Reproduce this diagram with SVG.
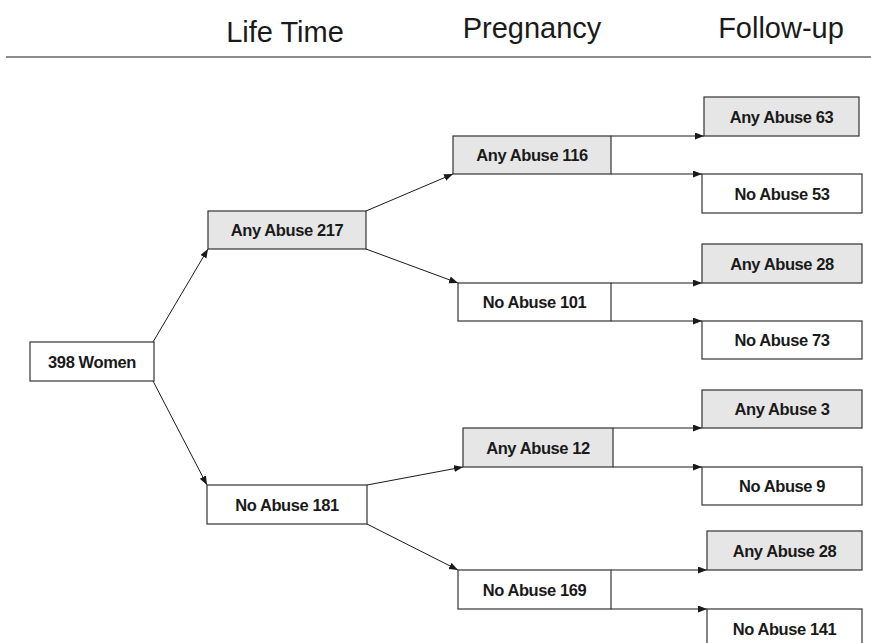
<svg xmlns="http://www.w3.org/2000/svg" width="871" height="643" viewBox="0 0 871 643">
<style>
.hdr{font-family:"Liberation Sans",Arial,sans-serif;font-size:29px;fill:#1a1a1a;text-anchor:middle}
.box{stroke:#333;stroke-width:1.2}
.g{fill:#e6e6e6}
.w{fill:#fff}
.lbl{font-family:"Liberation Sans",Arial,sans-serif;font-size:16.5px;font-weight:bold;letter-spacing:-0.4px;fill:#1a1a1a;text-anchor:middle}
.c{stroke:#1a1a1a;stroke-width:1;fill:none;marker-end:url(#ah)}
</style>
<defs>
<marker id="ah" markerWidth="10" markerHeight="8" refX="9" refY="3.5" orient="auto" markerUnits="userSpaceOnUse">
<path d="M0,0 L9,3.5 L0,7 z" fill="#1a1a1a"/>
</marker>
</defs>
<rect width="871" height="643" fill="#fff"/>
<g id="header">
<text class="hdr" x="285" y="42">Life Time</text>
<text class="hdr" x="532" y="38">Pregnancy</text>
<text class="hdr" x="781" y="38">Follow-up</text>
<line x1="6" y1="57" x2="871" y2="57" stroke="#1a1a1a" stroke-width="1.2"/>
</g>
<g id="connectors">
<line class="c" x1="153" y1="342" x2="208" y2="249"/>
<line class="c" x1="153" y1="381" x2="207" y2="485"/>
<line class="c" x1="366" y1="211" x2="453" y2="174"/>
<line class="c" x1="366" y1="249" x2="458" y2="283"/>
<line class="c" x1="367" y1="485" x2="463" y2="467"/>
<line class="c" x1="367" y1="524" x2="458" y2="570"/>
<line class="c" x1="611" y1="136" x2="704" y2="136"/>
<line class="c" x1="611" y1="174" x2="702" y2="174"/>
<line class="c" x1="611" y1="283" x2="702" y2="283"/>
<line class="c" x1="611" y1="321" x2="702" y2="321"/>
<line class="c" x1="613" y1="428" x2="702" y2="428"/>
<line class="c" x1="613" y1="467" x2="702" y2="467"/>
<line class="c" x1="611" y1="570" x2="707" y2="570"/>
<line class="c" x1="611" y1="609" x2="707" y2="609"/>
</g>
<g id="n398"><rect class="box w" x="30" y="342" width="124" height="39"/><text class="lbl" x="92" y="367.5">398 Women</text></g>
<g id="n217"><rect class="box g" x="208" y="211" width="158" height="38"/><text class="lbl" x="287" y="236">Any Abuse 217</text></g>
<g id="n181"><rect class="box w" x="207" y="485" width="160" height="39"/><text class="lbl" x="287" y="510.5">No Abuse 181</text></g>
<g id="n116"><rect class="box g" x="453" y="136" width="158" height="38"/><text class="lbl" x="532" y="161">Any Abuse 116</text></g>
<g id="n101"><rect class="box w" x="458" y="283" width="153" height="38"/><text class="lbl" x="534.5" y="308">No Abuse 101</text></g>
<g id="n12"><rect class="box g" x="463" y="428" width="150" height="39"/><text class="lbl" x="538" y="453.5">Any Abuse 12</text></g>
<g id="n169"><rect class="box w" x="458" y="570" width="153" height="39"/><text class="lbl" x="534.5" y="595.5">No Abuse 169</text></g>
<g id="n63"><rect class="box g" x="704" y="97" width="155" height="39"/><text class="lbl" x="781.5" y="122.5">Any Abuse 63</text></g>
<g id="n53"><rect class="box w" x="702" y="174" width="160" height="39"/><text class="lbl" x="782" y="199.5">No Abuse 53</text></g>
<g id="n28a"><rect class="box g" x="702" y="244" width="160" height="39"/><text class="lbl" x="782" y="269.5">Any Abuse 28</text></g>
<g id="n73"><rect class="box w" x="702" y="321" width="160" height="38"/><text class="lbl" x="782" y="346">No Abuse 73</text></g>
<g id="n3"><rect class="box g" x="702" y="390" width="160" height="38"/><text class="lbl" x="782" y="415">Any Abuse 3</text></g>
<g id="n9"><rect class="box w" x="702" y="467" width="160" height="38"/><text class="lbl" x="782" y="492">No Abuse 9</text></g>
<g id="n28b"><rect class="box g" x="707" y="531" width="155" height="39"/><text class="lbl" x="784.5" y="556.5">Any Abuse 28</text></g>
<g id="n141"><rect class="box w" x="707" y="609" width="155" height="39"/><text class="lbl" x="784.5" y="634.5">No Abuse 141</text></g>
</svg>
